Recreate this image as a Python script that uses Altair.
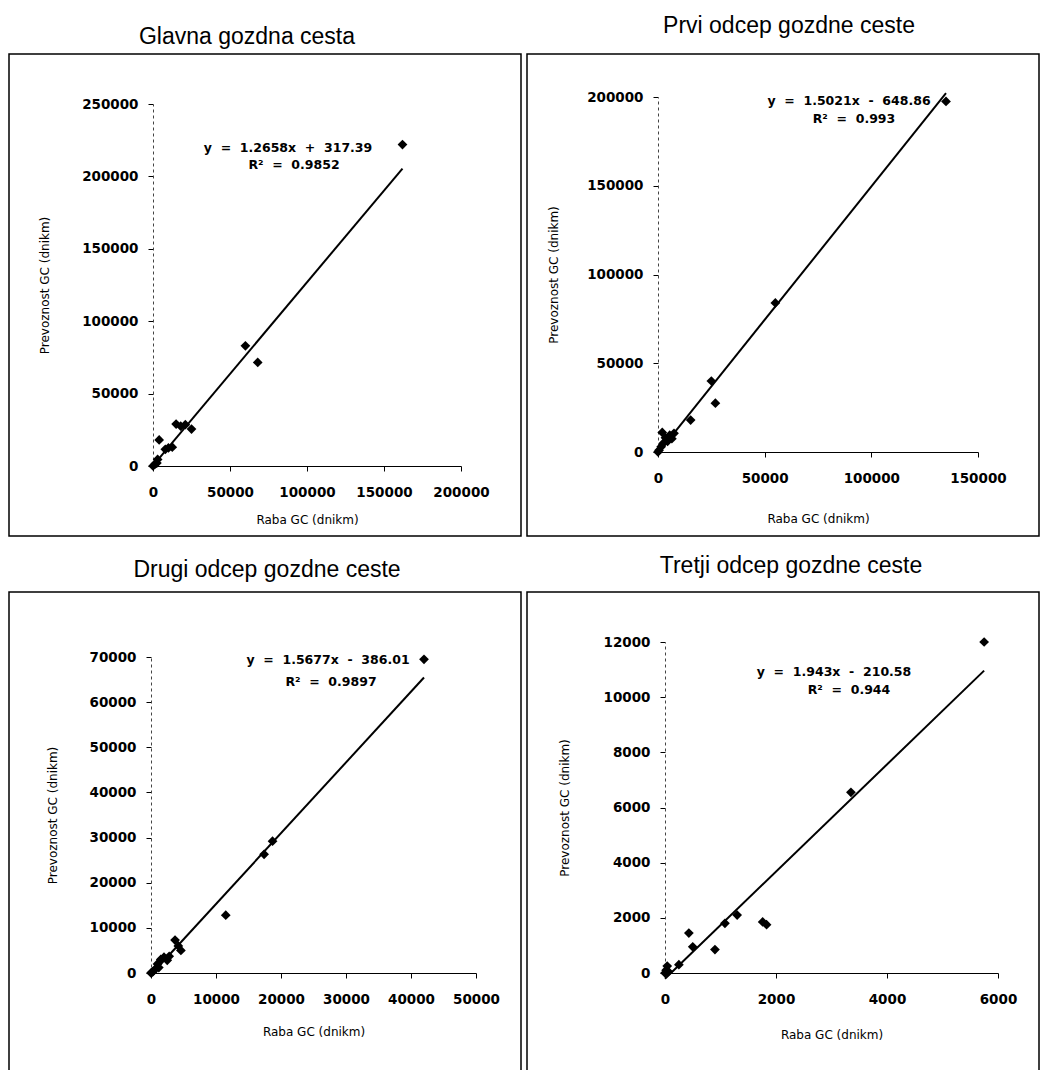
import altair as alt
import pandas as pd

# ---------------- data ----------------
titles = ["Glavna gozdna cesta", "Prvi odcep gozdne ceste",
          "Drugi odcep gozdne ceste", "Tretji odcep gozdne ceste"]
x_title = "Raba GC (dnikm)"
y_title = "Prevoznost GC (dnikm)"

NB = "\u00a0"
eq_text = ["y = 1.2658x + 317.39", "y = 1.5021x - 648.86",
           "y = 1.5677x - 386.01", "y = 1.943x - 210.58"]
r2_text = ["R² = 0.9852", "R² = 0.993", "R² = 0.9897", "R² = 0.944"]
coef_a = [1.2658, 1.5021, 1.5677, 1.943]
coef_b = [317.39, -648.86, -386.01, -210.58]

x_ticks = [[0, 50000, 100000, 150000, 200000],
           [0, 50000, 100000, 150000],
           [0, 10000, 20000, 30000, 40000, 50000],
           [0, 2000, 4000, 6000]]
y_ticks = [[0, 50000, 100000, 150000, 200000, 250000],
           [0, 50000, 100000, 150000, 200000],
           [0, 10000, 20000, 30000, 40000, 50000, 60000, 70000],
           [0, 2000, 4000, 6000, 8000, 10000, 12000]]

glavna_x = [0, 1500, 3000, 2500, 4000, 8000, 10000, 12500, 15000, 18000, 21000, 25000, 60000, 68000, 162000]
glavna_y = [0, 1500, 4500, 2000, 18000, 11500, 12500, 13000, 29000, 27500, 28500, 25500, 83000, 71500, 222000]

prvi_x = [0, 500, 1500, 2500, 3500, 4500, 5500, 2000, 6500, 7500, 15300, 25000, 26900, 55000, 135000]
prvi_y = [0, 1000, 3000, 5000, 8000, 6000, 9500, 11000, 7500, 10500, 18000, 40000, 27500, 84000, 197500]

drugi_x = [0, 100, 300, 600, 1000, 1200, 1500, 2000, 2500, 2800, 3700, 4200, 4600, 11500, 17400, 18700, 42000]
drugi_y = [0, 100, 300, 800, 2000, 1200, 3000, 3500, 2800, 3700, 7300, 6000, 5000, 12800, 26300, 29200, 69500]

tretji_x = [0, 20, 40, 60, 250, 430, 500, 900, 1080, 1300, 1760, 1830, 3350, 5750]
tretji_y = [0, 100, 250, 50, 300, 1450, 950, 850, 1800, 2100, 1850, 1750, 6550, 12000]

series_x = [glavna_x, prvi_x, drugi_x, tretji_x]
series_y = [glavna_y, prvi_y, drugi_y, tretji_y]

# ---------------- layout (pixels, local to each panel box) ----------------
W, H = 512, 482
layout = [
    dict(xr=[144, 452], yr=[412, 50], eq=(279, 94), r2=(285, 111), tdx=-18, tdy=9,
         xtp=16, ytp=30),
    dict(xr=[131, 451], yr=[398, 43], eq=(322, 47), r2=(327, 65), tdx=6, tdy=-2,
         xtp=29, ytp=26),
    dict(xr=[142, 467], yr=[381, 65], eq=(319, 68), r2=(322, 90), tdx=2, tdy=4,
         xtp=21, ytp=30),
    dict(xr=[138, 471], yr=[381, 50], eq=(307, 80), r2=(322, 98), tdx=8, tdy=0,
         xtp=24, ytp=32),
]

FONT = "DejaVu Sans"


def spaced(s):
    return s.replace(" ", NB + NB)


def panel(i):
    L = layout[i]
    df = pd.DataFrame({"x": series_x[i], "y": series_y[i]})
    x0, x1 = min(series_x[i]), max(series_x[i])
    line_df = pd.DataFrame({"x": [x0, x1],
                            "y": [coef_a[i] * x0 + coef_b[i], coef_a[i] * x1 + coef_b[i]]})
    xs = alt.Scale(domain=[x_ticks[i][0], x_ticks[i][-1]], range=L["xr"], nice=False, zero=False)
    ys = alt.Scale(domain=[y_ticks[i][0], y_ticks[i][-1]], range=L["yr"], nice=False, zero=False)
    xa = alt.Axis(values=x_ticks[i], format="d", offset=L["yr"][0] - H, title=x_title,
                  grid=False, labelFlush=False, labelPadding=14, tickSize=5,
                  titlePadding=L["xtp"], domainColor="black", tickColor="black",
                  domainWidth=1.2)
    ya = alt.Axis(values=y_ticks[i], format="d", offset=-L["xr"][0], title=y_title,
                  grid=False, labelFlush=False, labelPadding=10, tickSize=5,
                  titlePadding=L["ytp"], domainDash=[3, 3], domainColor="#444444",
                  tickColor="black")

    pts = alt.Chart(df).mark_point(shape="diamond", filled=True, color="black",
                                   size=95, opacity=1).encode(
        x=alt.X("x:Q", scale=xs, axis=xa),
        y=alt.Y("y:Q", scale=ys, axis=ya),
    )
    line = alt.Chart(line_df).mark_line(color="black", strokeWidth=2, clip=True).encode(
        x=alt.X("x:Q", scale=xs), y=alt.Y("y:Q", scale=ys))
    eq = alt.Chart(pd.DataFrame({"t": [spaced(eq_text[i])]})).mark_text(
        font=FONT, fontSize=12.5, fontWeight="bold", color="black").encode(
        x=alt.value(L["eq"][0]), y=alt.value(L["eq"][1]), text="t:N")
    r2 = alt.Chart(pd.DataFrame({"t": [spaced(r2_text[i])]})).mark_text(
        font=FONT, fontSize=12.5, fontWeight="bold", color="black").encode(
        x=alt.value(L["r2"][0]), y=alt.value(L["r2"][1]), text="t:N")

    return alt.layer(line, pts, eq, r2).properties(
        width=W, height=H,
        title=alt.TitleParams(titles[i], fontSize=23, font="Liberation Sans",
                              fontWeight="normal", anchor="middle", offset=14,
                              dx=L["tdx"], dy=L["tdy"], color="black"))


top = alt.hconcat(panel(0), panel(1), spacing=4)
bottom = alt.hconcat(panel(2), panel(3), spacing=4)
chart = alt.vconcat(top, bottom, spacing=17).properties(
    padding={"left": 8, "top": 14, "right": 0, "bottom": 0},
    background="white",
).configure_view(stroke="black", strokeWidth=1.5).configure_axis(
    labelFont=FONT, labelFontSize=13.5, labelFontWeight="bold", labelColor="black",
    titleFont=FONT, titleFontSize=12, titleFontWeight="normal", titleColor="black",
)

chart.save("out.html", embed_options={"renderer": "svg", "actions": False})
